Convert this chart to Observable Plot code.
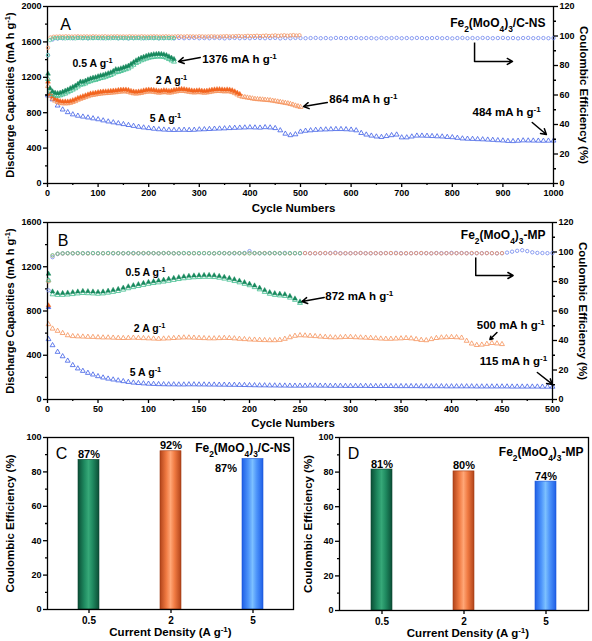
<!DOCTYPE html>
<html><head><meta charset="utf-8">
<script src="https://cdn.jsdelivr.net/npm/d3@7"></script>
<script src="https://cdn.jsdelivr.net/npm/@observablehq/plot@0.6"></script>
<style>
body{margin:0;background:#fff}
#fig{position:relative;width:592px;height:641px;overflow:hidden;background:#fff}
#fig svg{position:absolute;overflow:visible;max-width:none}
</style>
</head><body><div id="fig"></div>
<script>
// ---------------- DATA ----------------
// Panel A (Fe2(MoO4)3/C-NS): capacities (mA h g-1); first cycle = 1, then every `step` cycles
const greenA_chg = [1240,
 1075,1040,1025,1020,1025,1035,1048,1060,1075,1090,
 1105,1125,1150,1150,1160,1175,1185,1195,1200,1210,
 1220,1225,1235,1245,1255,1270,1290,1290,1300,1310,
 1320,1330,1350,1370,1390,1405,1420,1430,1440,1450,
 1455,1460,1462,1465,1463,1458,1450,1435,1420,1405]; // step 5
const greenA_dis = [1180,
 1040,1010,995,990,995,1005,1015,1030,1045,1060,
 1075,1095,1115,1120,1130,1145,1155,1165,1170,1180,
 1190,1195,1205,1215,1225,1240,1255,1260,1270,1280,
 1290,1300,1320,1340,1360,1375,1390,1400,1410,1420,
 1425,1430,1432,1435,1433,1430,1420,1405,1390,1376]; // step 5
const orangeA_chg = [1150,
 1010,980,955,940,930,925,925,925,930,940,
 950,965,975,985,995,1005,1015,1020,1025,1030,
 1035,1038,1040,1042,1045,1048,1050,1055,1058,1060,
 1060,1055,1045,1038,1035,1038,1042,1050,1055,1060,
 1058,1055,1050,1045,1048,1052,1050,1045,1048,1055,
 1060,1065,1068,1065,1060,1055,1050,1048,1050,1052,
 1048,1045,1048,1052,1058,1062,1065,1065,1062,1060,
 1062,1060,1052,1040,1025,1010]; // step 5
const orangeA_dis = [1100,
 990,960,935,920,910,905,905,905,910,920,
 930,945,955,965,975,985,995,1000,1005,1010,
 1015,1018,1020,1022,1025,1028,1030,1035,1038,1040,
 1040,1035,1025,1018,1015,1018,1022,1030,1035,1040,
 1038,1035,1030,1025,1028,1032,1030,1025,1028,1035,
 1040,1045,1048,1045,1040,1035,1030,1028,1030,1032,
 1028,1025,1028,1032,1038,1042,1045,1045,1042,1040,
 1042,1040,1032,1020,1005,990,980,975,970,965,
 960,955,952,950,948,945,942,940,935,930,
 925,920,915,910,905,898,890,880,872,864]; // step 5
const blueA_dis = [994,
 950,880,835,805,780,765,755,745,735,725,
 712,700,690,680,670,660,650,640,632,625,
 618,612,608,605,604,605,606,604,606,610,
 612,615,618,620,622,625,628,630,632,634,
 632,630,635,632,625,600,562,545,555,585,
 595,600,605,608,610,612,614,614,612,608,
 600,570,552,540,530,525,535,545,552,520,
 520,530,540,540,538,535,532,530,525,522,
 515,508,505,503,500,498,495,492,488,485,
 480,478,482,486,485,484,483,482,483,484]; // step 10
// Panel A coulombic efficiency (%)
const ceA_green = [87,
 97.2,98.3,98.6,98.5,98.7,98.6,98.4,98.7,98.5,98.6,
 98.4,98.7,98.6,98.5,98.7,98.4,98.6,98.5,98.7,98.6,
 98.5,98.7,98.4,98.6,98.5,98.7,98.6,98.4,98.7,98.5,
 98.6,98.4,98.7,98.5,98.6,98.7,98.4,98.6,98.5,98.7,
 98.6,98.5,98.7,98.4,98.6,98.5,98.7,98.6,98.5,98.6]; // step 5
const ceA_orange = [92,
 99.0,99.5,99.6,99.7,99.6,99.8,99.7,99.6,99.7,
 99.8,99.6,99.7,99.7,99.6,99.8,99.7,99.6,99.7,99.8,
 99.6,99.7,99.7,99.8,99.6,99.7,99.6,99.8,99.7,99.7,
 99.6,99.8,99.7,99.6,99.7,99.8,99.7,99.6,99.7,99.8,
 99.7,99.6,99.7,99.8,99.7,99.6,99.8,99.7,99.7,99.6,
 99.8,99.7,99.6,99.7,99.8,99.7,99.6,99.7,99.8,99.9,
 99.7,99.8,99.9,100.0,99.8,99.9,100.1,99.9,100.0,100.2,
 99.9,100.1,100.3,100.0,100.2,100.4,100.1,100.3,100.5,100.2,
 100.4,100.6,100.3,100.5]; // step 6
const ceA_blue = [87,
 97.6,98.3,98.5,98.6,98.5,98.7,98.6,98.5,98.7,98.6,
 98.5,98.6,98.7,98.5,98.6,98.4,98.6,98.7,98.5,98.6,
 98.7,98.5,98.6,98.6,98.4,98.7,98.5,98.6,98.7,98.5,
 98.6,98.5,98.7,98.6,98.4,98.6,98.7,98.5,98.6,98.5,
 98.7,98.6,98.5,98.6,98.7,98.4,98.6,98.5,98.7,98.6,
 98.5,98.6,98.7,98.5,98.6,98.4,98.7,98.6,98.5,98.6,
 98.7,98.5,98.6,98.6,98.4,98.7,98.5,98.6,98.7,98.5,
 98.6,98.5,98.7,98.6,98.5,98.6,98.7,98.5,98.6,98.4,
 98.6,98.7,98.5,98.6,98.5,98.7,98.6,98.5,98.6,98.7,
 98.5,98.6,98.4,98.6,98.7,98.5,98.6,98.6,98.5,98.6]; // step 10

// Panel B (Fe2(MoO4)3-MP)
const greenB_chg = [1136,
 975,962,962,965,970,975,980,978,975,972,
 975,982,990,998,1010,1022,1032,1042,1052,1062,
 1068,1075,1082,1090,1098,1105,1112,1117,1120,1122,
 1124,1125,1122,1116,1108,1098,1086,1074,1060,1046,
 1030,1010,988,970,960,955,950,935,912,885]; // step 5
const greenB_dis = [1076,
 950,945,945,948,952,958,962,960,958,955,
 958,965,972,980,992,1005,1015,1025,1035,1045,
 1052,1058,1065,1072,1080,1088,1095,1100,1104,1106,
 1108,1108,1106,1100,1092,1082,1070,1058,1045,1032,
 1015,995,972,955,945,940,935,920,900,872]; // step 5
const orangeB_chg = [850]; // cycle 1
const orangeB_dis = [680,
 640,620,600,580,572,570,568,566,565,562,
 560,560,558,556,555,556,558,556,554,552,
 550,548,550,552,555,558,560,560,558,556,
 554,552,552,554,556,555,552,548,545,542,
 540,538,536,535,535,538,548,562,575,580,
 578,575,572,568,565,562,560,562,565,565,
 562,560,558,556,553,550,548,548,550,552,
 555,552,545,538,535,545,555,560,562,564,
 562,558,530,505,492,495,502,510,506,500]; // step 5
const blueB_chg = [834]; // cycle 1
const blueB_dis = [545,
 490,430,390,350,310,280,258,240,225,210,
 198,188,180,172,165,158,152,148,145,142,
 140,138,137,136,136,135,135,136,136,135,
 135,134,134,133,133,132,132,131,130,129,
 128,127,127,126,126,125,125,124,124,124,
 124,125,125,124,124,123,123,123,122,122,
 122,122,122,121,121,121,121,121,120,120,
 120,120,120,119,119,119,119,119,118,118,
 118,118,118,118,117,117,117,117,117,117,
 117,116,116,116,116,116,116,115,115,115]; // step 5
const ceB_green = [81,
 97.8,98.9,99.1,99.2,99.1,99.3,99.2,99.1,99.3,99.2,
 99.1,99.3,99.2,99.2,99.1,99.3,99.2,99.1,99.2,99.3,
 99.2,99.1,99.3,99.2,99.1,99.2,99.3,99.2,99.1,99.3,
 99.2,99.2,99.1,99.3,99.2,99.1,99.3,99.2,99.2,99.1,
 99.3,99.2,99.1,99.2,99.3,99.2,99.1,99.3,99.2,99.2]; // step 5
const ceB_orange = [80,
 97.6,98.8,99.0,99.1,99.2,99.1,99.2,99.0,99.2,99.1,
 99.2,99.1,99.3,99.2,99.1,99.2,99.0,99.2,99.3,99.1,
 99.2,99.1,99.2,99.3,99.1,99.2,99.2,99.0,99.2,99.1,
 99.3,99.2,99.1,99.2,99.2,99.1,99.3,99.2,99.0,99.2,
 99.1,99.2,99.3,99.1,99.2,99.2,99.1,99.0,99.2,99.3,
 99.2,99.1,99.2,99.2,99.3,99.1,99.2,99.0,99.2,99.1,
 99.2,99.3,99.1,99.2,99.2,99.1,99.2,99.3,99.1,99.0,
 99.2,99.1,99.2,99.3,99.2,99.1,99.2,99.0,99.2,99.1,
 99.2,99.2,99.1,99.3,99.2,99.1,99.2,99.2,99.1,99.2]; // step 5
const ceB_blue = [74,
 96.5,98.6,99.0,99.2,99.1,99.2,99.1,99.3,99.2,99.1,
 99.2,99.3,99.1,99.2,99.2,99.1,99.3,99.2,99.1,99.2,
 99.2,99.1,99.2,99.3,99.2,99.1,99.2,99.2,99.3,99.1,
 99.2,99.2,99.1,99.3,99.2,99.2,99.1,99.2,99.3,100.6,
 99.2,99.1,99.2,99.3,99.2,99.1,99.4,99.2,99.2,99.1,
 99.3,99.2,99.1,99.2,99.2,99.3,99.5,99.2,99.1,99.2,
 99.2,99.3,99.2,99.1,99.2,99.2,99.3,99.2,99.4,99.2,
 99.1,99.2,99.3,99.2,99.2,99.1,99.3,99.2,99.2,99.4,
 99.2,99.3,99.2,99.1,99.2,99.2,99.3,99.2,99.1,99.2,
 99.6,100.2,100.8,101.2,100.6,99.8,99.4,99.3,99.2,99.3]; // step 5

// Panels C and D: initial coulombic efficiency
const densities = ["0.5", "2", "5"];
const ceC = [87, 92, 87.5];
const ceD = [81.5, 80.4, 74.5];
const labelsC = ["87%", "92%", "87%"];
const labelsD = ["81%", "80%", "74%"];

// Annotations (data units)
const annA = {
  rates: [{c: 89, v: 1356, t: "0.5 A g^{-1}"}, {c: 245, v: 1164, t: "2 A g^{-1}"}, {c: 233, v: 735, t: "5 A g^{-1}"}],
  values: [{c: 306, v: 1401, t: "1376 mA h g^{-1}"}, {c: 557, v: 949, t: "864 mA h g^{-1}"}, {c: 840, v: 802, t: "484 mA h g^{-1}"}],
  arrows: [{x1: 302, y1: 1424, x2: 259, y2: 1379}, {x1: 553, y1: 915, x2: 506, y2: 870}, {x1: 958, y1: 689, x2: 986, y2: 554}, {x1: 844, y1: 1379, x2: 919, y2: 1379}],
  links: [{x1: 844, y1: 1593, x2: 844, y2: 1379}]
};
const annB = {
  rates: [{c: 97, v: 1148, t: "0.5 A g^{-1}"}, {c: 101, v: 642, t: "2 A g^{-1}"}, {c: 97, v: 244, t: "5 A g^{-1}"}],
  values: [{c: 275, v: 931, t: "872 mA h g^{-1}"}, {c: 425, v: 669, t: "500 mA h g^{-1}"}, {c: 428, v: 344, t: "115 mA h g^{-1}"}],
  arrows: [{x1: 274, y1: 922, x2: 252, y2: 886}, {x1: 445, y1: 606, x2: 438, y2: 542}, {x1: 485, y1: 244, x2: 500, y2: 136}, {x1: 424, y1: 1121, x2: 461, y2: 1121}],
  links: [{x1: 424, y1: 1284, x2: 424, y2: 1121}]
};

// ---------------- STYLE ----------------
const FONT = '"Liberation Sans", Arial, Helvetica, sans-serif';
const COL = {gFill: "#17895d", gOpen: "#3cbd8d", gCE: "#5ccb9f",
  oFill: "#f2641f", oOpen: "#f59058", oCE: "#f39565",
  bTri: "#3c5de6", bCE: "#7086ee"};
const baseStyle = {fontFamily: FONT, fontSize: "9px", fontWeight: "bold", background: "transparent", color: "#000", overflow: "visible"};
const fmt = d => String(d);

// ---------------- HELPERS ----------------
const fig = document.getElementById("fig");
const NS = "http://www.w3.org/2000/svg";
function rows(values, step) {
  return values.map((v, i) => ({c: i === 0 ? 1 : i * step, v}));
}
function rich(svg) {
  svg.querySelectorAll("text").forEach(t => {
    const s = t.textContent;
    if (!/[_^]\{/.test(s)) return;
    t.textContent = "";
    const re = /([_^])\{([^}]*)\}/g;
    let last = 0, m;
    const add = (str, kind) => {
      const ts = document.createElementNS(NS, "tspan");
      ts.textContent = str;
      if (kind) {
        ts.setAttribute("font-size", "70%");
        ts.setAttribute("baseline-shift", kind === "^" ? "super" : "sub");
      }
      t.appendChild(ts);
    };
    while ((m = re.exec(s))) {
      if (m.index > last) add(s.slice(last, m.index));
      add(m[2], m[1]);
      last = re.lastIndex;
    }
    if (last < s.length) add(s.slice(last));
  });
}
function place(svg, left, top) {
  svg.style.left = left + "px";
  svg.style.top = top + "px";
  rich(svg);
  fig.appendChild(svg);
}
const tri = (data, color, filled) => Plot.dot(data, {x: "c", y: "v", symbol: "triangle", r: 1.8,
  fill: filled ? color : "none", stroke: color, strokeWidth: filled ? 0.4 : 0.8});
const circ = (data, color) => Plot.dot(data, {x: "c", y: "v", symbol: "circle", r: 1.7,
  fill: "none", stroke: color, strokeWidth: 0.8});
const label = (t, o) => Plot.text([t], {text: d => d, textAnchor: "middle", lineAnchor: "middle", ...o});
const annMarks = (ann) => [
  Plot.text(ann.rates, {x: "c", y: "v", text: "t", fontSize: 10.5}),
  Plot.text(ann.values, {x: "c", y: "v", text: "t", fontSize: 11.5, textAnchor: "start"}),
  Plot.link(ann.links, {x1: "x1", y1: "y1", x2: "x2", y2: "y2", stroke: "#000", strokeWidth: 1.5}),
  Plot.arrow(ann.arrows, {x1: "x1", y1: "y1", x2: "x2", y2: "y2", stroke: "#000", strokeWidth: 1.5, headLength: 6})
];

// ---------------- PANEL A ----------------
const dimA = {width: 592, height: 215, marginLeft: 47, marginRight: 39, marginTop: 6, marginBottom: 32};
const svgA = Plot.plot({
  ...dimA, style: baseStyle,
  x: {domain: [0, 1000]}, y: {domain: [0, 2000]},
  marks: [
    tri(rows(blueA_dis, 10), COL.bTri, false),
    tri(rows(orangeA_dis, 5), COL.oOpen, false),
    tri(rows(orangeA_chg, 5), COL.oFill, true),
    tri(rows(greenA_dis, 5), COL.gOpen, false),
    tri(rows(greenA_chg, 5), COL.gFill, true),
    Plot.axisX({ticks: d3.range(0, 1001, 100), tickFormat: fmt, tickSize: 4, tickPadding: 2, strokeWidth: 1.3, label: null}),
    Plot.axisX({ticks: d3.range(50, 1000, 100), tickSize: 2, tickFormat: () => "", strokeWidth: 1.3, label: null}),
    Plot.axisY({ticks: d3.range(0, 2001, 400), tickFormat: fmt, tickSize: 4, tickPadding: 2, strokeWidth: 1.3, label: null}),
    Plot.axisY({ticks: d3.range(200, 2000, 400), tickSize: 2, tickFormat: () => "", strokeWidth: 1.3, label: null}),
    Plot.frame({stroke: "#000", strokeWidth: 1.3}),
    ...annMarks(annA),
    label("A", {frameAnchor: "top-left", dx: 18, dy: 18, fontSize: 16, fontWeight: "normal"}),
    label("Fe_{2}(MoO_{4})_{3}/C-NS", {frameAnchor: "top-right", dx: -8, dy: 17, fontSize: 12, textAnchor: "end"}),
    label("Discharge Capacities (mA h g^{-1})", {frameAnchor: "left", rotate: -90, dx: -37, fontSize: 11}),
    label("Cycle Numbers", {frameAnchor: "bottom", dy: 25, dx: -7, fontSize: 11.5})
  ]
});
place(svgA, 0, 0);
const svgA2 = Plot.plot({
  ...dimA, style: baseStyle,
  x: {domain: [0, 1000], axis: null}, y: {domain: [0, 120]},
  marks: [
    circ(rows(ceA_blue, 10), COL.bCE),
    circ(rows(ceA_orange, 6), COL.oCE),
    circ(rows(ceA_green, 5), COL.gCE),
    Plot.axisY({anchor: "right", ticks: d3.range(0, 121, 20), tickFormat: fmt, tickSize: 4, tickPadding: 2, strokeWidth: 1.3, label: null}),
    Plot.axisY({anchor: "right", ticks: d3.range(10, 120, 20), tickSize: 2, tickFormat: () => "", strokeWidth: 1.3, label: null}),
    label("Coulombic Efficiency (%)", {frameAnchor: "right", rotate: 90, dx: 30, fontSize: 11.5})
  ]
});
place(svgA2, 0, 0);

// ---------------- PANEL B ----------------
const dimB = {width: 592, height: 216, marginLeft: 47, marginRight: 40, marginTop: 7, marginBottom: 32};
const svgB = Plot.plot({
  ...dimB, style: baseStyle,
  x: {domain: [0, 500]}, y: {domain: [0, 1600]},
  marks: [
    tri(rows(blueB_dis, 5), COL.bTri, false),
    tri(rows(blueB_chg, 5), COL.bTri, true),
    tri(rows(orangeB_dis, 5), COL.oOpen, false),
    tri(rows(orangeB_chg, 5), COL.oFill, true),
    tri(rows(greenB_dis, 5), COL.gOpen, false),
    tri(rows(greenB_chg, 5), COL.gFill, true),
    Plot.axisX({ticks: d3.range(0, 501, 50), tickFormat: fmt, tickSize: 4, tickPadding: 2, strokeWidth: 1.3, label: null}),
    Plot.axisX({ticks: d3.range(25, 500, 50), tickSize: 2, tickFormat: () => "", strokeWidth: 1.3, label: null}),
    Plot.axisY({ticks: d3.range(0, 1601, 400), tickFormat: fmt, tickSize: 4, tickPadding: 2, strokeWidth: 1.3, label: null}),
    Plot.axisY({ticks: d3.range(200, 1600, 400), tickSize: 2, tickFormat: () => "", strokeWidth: 1.3, label: null}),
    Plot.frame({stroke: "#000", strokeWidth: 1.3}),
    ...annMarks(annB),
    label("B", {frameAnchor: "top-left", dx: 15.5, dy: 18, fontSize: 16, fontWeight: "normal"}),
    label("Fe_{2}(MoO_{4})_{3}-MP", {frameAnchor: "top-right", dx: -7, dy: 13, fontSize: 12, textAnchor: "end"}),
    label("Discharge Capacities (mA h g^{-1})", {frameAnchor: "left", rotate: -90, dx: -37, fontSize: 11}),
    label("Cycle Numbers", {frameAnchor: "bottom", dy: 24, dx: -7, fontSize: 11.5})
  ]
});
place(svgB, 0, 215);
const svgB2 = Plot.plot({
  ...dimB, style: baseStyle,
  x: {domain: [0, 500], axis: null}, y: {domain: [0, 120]},
  marks: [
    circ(rows(ceB_blue, 5), COL.bCE),
    circ(rows(ceB_orange, 5), COL.oCE),
    circ(rows(ceB_green, 5), COL.gCE),
    Plot.axisY({anchor: "right", ticks: d3.range(0, 121, 20), tickFormat: fmt, tickSize: 4, tickPadding: 2, strokeWidth: 1.3, label: null}),
    Plot.axisY({anchor: "right", ticks: d3.range(10, 120, 20), tickSize: 2, tickFormat: () => "", strokeWidth: 1.3, label: null}),
    label("Coulombic Efficiency (%)", {frameAnchor: "right", rotate: 90, dx: 30, fontSize: 11.5})
  ]
});
place(svgB2, 0, 215);

// ---------------- PANELS C & D ----------------
const GRAD = {
  "0.5": [[0, "#0b4f36"], [0.3, "#1f8a60"], [0.5, "#36a878"], [0.7, "#1f8a60"], [1, "#0b4f36"]],
  "2": [[0, "#b2441a"], [0.3, "#f07a42"], [0.5, "#ffa676"], [0.7, "#f07a42"], [1, "#b2441a"]],
  "5": [[0, "#1f5fe6"], [0.3, "#4d94fa"], [0.5, "#7cc0ff"], [0.7, "#4d94fa"], [1, "#1f5fe6"]]
};
const EDGE = {"0.5": "#0a4430", "2": "#a03c14", "5": "#1a55d6"};
function addDefs(svg, prefix) {
  const defs = document.createElementNS(NS, "defs");
  densities.forEach((k, i) => {
    const g = document.createElementNS(NS, "linearGradient");
    g.setAttribute("id", prefix + i);
    g.setAttribute("x1", "0"); g.setAttribute("x2", "1"); g.setAttribute("y1", "0"); g.setAttribute("y2", "0");
    GRAD[k].forEach(([o, c]) => {
      const s = document.createElementNS(NS, "stop");
      s.setAttribute("offset", o); s.setAttribute("stop-color", c);
      g.appendChild(s);
    });
    defs.appendChild(g);
  });
  svg.insertBefore(defs, svg.firstChild);
}
function barPanel(values, labels, prefix, dims, pad, letter, material, offsetThird, titleDx, xTitleDx) {
  const data = densities.map((d, i) => ({cat: d, ce: values[i], lab: labels[i], fill: `url(#${prefix}${i})`, edge: EDGE[d]}));
  const above = offsetThird ? data.slice(0, 2) : data;
  const svg = Plot.plot({
    ...dims, style: baseStyle,
    x: {domain: densities, paddingInner: 0.75, paddingOuter: pad},
    y: {domain: [0, 100]},
    color: {type: "identity"},
    marks: [
      Plot.barY(data, {x: "cat", y: "ce", fill: "fill", stroke: "edge", strokeWidth: 0.6}),
      Plot.axisX({tickSize: 4, tickPadding: 3, strokeWidth: 1.3, label: null, fontSize: 10}),
      Plot.axisY({ticks: d3.range(0, 101, 20), tickFormat: fmt, tickSize: 4, tickPadding: 2, strokeWidth: 1.3, label: null}),
      Plot.axisY({ticks: d3.range(10, 100, 20), tickSize: 2, tickFormat: () => "", strokeWidth: 1.3, label: null}),
      Plot.frame({stroke: "#000", strokeWidth: 1.3}),
      Plot.text(above, {x: "cat", y: "ce", text: "lab", lineAnchor: "bottom", dy: -2, fontSize: 11}),
      offsetThird ? Plot.text(data.slice(2), {x: "cat", y: "ce", text: "lab", dx: -27, dy: 9, fontSize: 11}) : null,
      label(letter, {frameAnchor: "top-left", dx: 14, dy: 16, fontSize: 16, fontWeight: "normal"}),
      label(material, {frameAnchor: "top-right", dx: offsetThird ? -3 : -5, dy: offsetThird ? 11 : 15, fontSize: 12, textAnchor: "end"}),
      label("Coulombic Efficiency (%)", {frameAnchor: "left", rotate: -90, dx: titleDx, fontSize: 11.5}),
      label("Current Density (A g^{-1})", {frameAnchor: "bottom", dy: 23, dx: xTitleDx, fontSize: 11.5})
    ]
  });
  addDefs(svg, prefix);
  return svg;
}
const svgC = barPanel(ceC, labelsC, "gc", {width: 300, height: 211, marginLeft: 47, marginRight: 7, marginTop: 7, marginBottom: 32},
  0.375, "C", "Fe_{2}(MoO_{4})_{3}/C-NS", true, -37, 0);
place(svgC, 0, 430);
const svgD = barPanel(ceD, labelsD, "gd", {width: 296, height: 211, marginLeft: 43, marginRight: 4, marginTop: 7, marginBottom: 31},
  0.39, "D", "Fe_{2}(MoO_{4})_{3}-MP", false, -31, 4);
place(svgD, 296, 430);
</script>
</body></html>
